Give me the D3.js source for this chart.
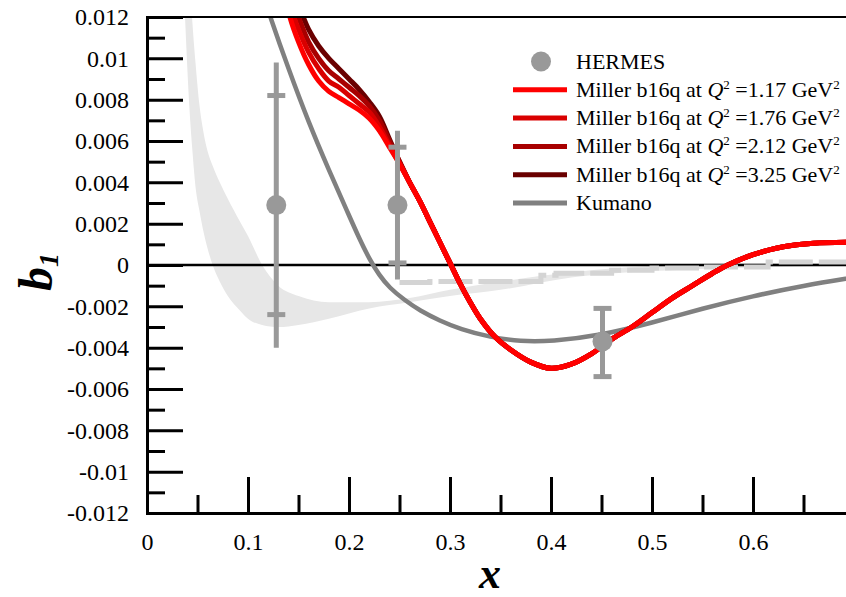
<!DOCTYPE html>
<html>
<head>
<meta charset="utf-8">
<script src="https://d3js.org/d3.v7.min.js"></script>
<style>
  body { margin: 0; background: #fff; }
  text { font-family: "Liberation Serif", "Times New Roman", serif; }
</style>
</head>
<body>
<svg width="846" height="597"></svg>
<script>
// ---- data ----
var xMajor = [0, 0.1, 0.2, 0.3, 0.4, 0.5, 0.6, 0.7];
var xMinor = [0.05, 0.15, 0.25, 0.35, 0.45, 0.55, 0.65];
var yMajor = [-0.012, -0.01, -0.008, -0.006, -0.004, -0.002, 0, 0.002, 0.004, 0.006, 0.008, 0.01, 0.012];
var yMinor = [-0.011, -0.009, -0.007, -0.005, -0.003, -0.001, 0.001, 0.003, 0.005, 0.007, 0.009, 0.011];

// HERMES points with stat (caps) and total (line) errors
var hermesX    = [0.128, 0.248, 0.451];
var hermesY    = [0.0029, 0.0029, -0.0037];
var hermesStHi = [0.0082, 0.0057, -0.0021];
var hermesStLo = [-0.0024, 0.0001, -0.0054];
var hermesTtHi = [0.0098, 0.0065, -0.0021];
var hermesTtLo = [-0.0040, -0.0007, -0.0054];

// Miller b16q curves
var millerX   = [0.135, 0.1415, 0.15, 0.16, 0.17, 0.18, 0.19, 0.2, 0.21, 0.22, 0.23, 0.24, 0.25, 0.26, 0.27, 0.28, 0.29, 0.3, 0.31, 0.32, 0.33, 0.345, 0.36, 0.38, 0.4, 0.42, 0.44, 0.46, 0.48, 0.5, 0.52, 0.54, 0.56, 0.575, 0.6, 0.63, 0.66, 0.7];
var millerTail = [0.0031, 0.0021, 0.0011, 0.0001, -0.0009, -0.0018, -0.0026, -0.0035, -0.0041, -0.0047, -0.0050, -0.0048, -0.0043, -0.0036, -0.0030, -0.0023, -0.0016, -0.0010, -0.0004, 0.0, 0.0005, 0.00088, 0.00105, 0.0011];
var miller117 = [0.0135, 0.012, 0.0108, 0.0097, 0.0089, 0.0084, 0.0081, 0.0078, 0.0075, 0.0071, 0.0065, 0.0057, 0.0049, 0.0040].concat(millerTail);
var miller176 = [0.0141, 0.0126, 0.0114, 0.0103, 0.0095, 0.0089, 0.0086, 0.0082, 0.0078, 0.0074, 0.0067, 0.0058, 0.0049, 0.0040].concat(millerTail);
var miller212 = [0.0146, 0.0132, 0.0120, 0.0108, 0.0100, 0.0094, 0.0090, 0.0086, 0.0082, 0.0077, 0.0070, 0.0060, 0.0050, 0.0040].concat(millerTail);
var miller325 = [0.0152, 0.0138, 0.0126, 0.0114, 0.0106, 0.0100, 0.0095, 0.0090, 0.0085, 0.0079, 0.0072, 0.0061, 0.0050, 0.0040].concat(millerTail);

// Kumano curve
var kumanoX = [0.11, 0.122, 0.14, 0.16, 0.18, 0.2, 0.21, 0.22, 0.23, 0.24, 0.255, 0.27, 0.29, 0.31, 0.34, 0.37, 0.4, 0.45, 0.5, 0.55, 0.6, 0.65, 0.7];
var kumanoY = [0.0138, 0.012, 0.0095, 0.0069, 0.0046, 0.0024, 0.0013, 0.0003, -0.0005, -0.0011, -0.0017, -0.0022, -0.0027, -0.0031, -0.0035, -0.0037, -0.0037, -0.0034, -0.0028, -0.0021, -0.0015, -0.0010, -0.0006];

// light grey band
var bandX  = [0.034, 0.038, 0.042, 0.045, 0.048, 0.052, 0.056, 0.06, 0.065, 0.072, 0.08, 0.092, 0.1, 0.114, 0.13, 0.15, 0.18, 0.22, 0.26, 0.3, 0.35, 0.42, 0.52, 0.6, 0.7];
var bandLo = [0.0165, 0.0116, 0.0076, 0.0055, 0.0038, 0.0026, 0.0016, 0.0008, 0.0, -0.0008, -0.0015, -0.0022, -0.0026, -0.0029, -0.0030, -0.0029, -0.0026, -0.0021, -0.0018, -0.0015, -0.0012, -0.0006, -0.00025, -0.00012, -0.00005];
var bandHi = [0.022, 0.018, 0.0142, 0.0117, 0.0098, 0.0077, 0.0064, 0.0055, 0.0048, 0.0040, 0.0032, 0.0021, 0.0014, 0.0, -0.0010, -0.0015, -0.0018, -0.0018, -0.0016, -0.0012, -0.0008, -0.00035, 0.0, 0.0001, 0.0001];

// dashed step line
var dashX = [0.25, 0.28, 0.32, 0.39, 0.405, 0.46, 0.5, 0.55, 0.615, 0.7];
var dashY = [-0.00085, -0.0008, -0.0008, -0.0005, -0.0004, -0.00025, -0.00015, -0.0001, 0.00015, 0.00015];

// legend
var legendNames  = ["1.17", "1.76", "2.12", "3.25"];
var legendColors = ["#ff0000", "#d90000", "#a80000", "#6a0000"];

// ---- layout ----
var svg = d3.select("svg");
var plotL = 147, plotR = 854, plotT = 17, plotB = 513;

var x = d3.scaleLinear().domain([0, 0.7]).range([plotL, plotR]);
var y = d3.scaleLinear().domain([-0.012, 0.012]).range([plotB, plotT]);

svg.append("clipPath").attr("id", "plot")
    .append("rect").attr("x", plotL).attr("y", plotT)
    .attr("width", plotR - plotL).attr("height", plotB - plotT);

var plot = svg.append("g").attr("clip-path", "url(#plot)");

// band
var bandData = bandX.map(function(d, i) { return [d, bandLo[i], bandHi[i]]; });
plot.append("path")
    .datum(bandData)
    .attr("fill", "#e7e7e7")
    .attr("d", d3.area()
        .x(function(d) { return x(d[0]); })
        .y0(function(d) { return y(d[1]); })
        .y1(function(d) { return y(d[2]); })
        .curve(d3.curveMonotoneX));

// zero line
plot.append("line")
    .attr("x1", plotL).attr("x2", plotR)
    .attr("y1", y(0)).attr("y2", y(0))
    .attr("stroke", "#000").attr("stroke-width", 2.5);

// dashed line
plot.append("path")
    .datum(dashX.map(function(d, i) { return [d, dashY[i]]; }))
    .attr("fill", "none")
    .attr("stroke", "#d4d4d4")
    .attr("stroke-width", 5)
    .attr("stroke-dasharray", "34,6")
    .attr("d", d3.line()
        .x(function(d) { return x(d[0]); })
        .y(function(d) { return y(d[1]); })
        .curve(d3.curveStepAfter));

var lineXY = function(curve) {
    return d3.line()
        .x(function(d) { return x(d[0]); })
        .y(function(d) { return y(d[1]); })
        .curve(curve);
};

// Kumano
plot.append("path")
    .datum(kumanoX.map(function(d, i) { return [d, kumanoY[i]]; }))
    .attr("fill", "none").attr("stroke", "#808080").attr("stroke-width", 4.5)
    .attr("d", lineXY(d3.curveBasis));

// Miller curves, darkest first
var millerSets = [miller117, miller176, miller212, miller325];
for (var k = 3; k >= 0; k--) {
    plot.append("path")
        .datum(millerX.map(function(d, i) { return [d, millerSets[k][i]]; }))
        .attr("fill", "none")
        .attr("stroke", legendColors[k])
        .attr("stroke-width", 5)
        .attr("d", lineXY(d3.curveCatmullRom.alpha(0.5)));
}

// HERMES error bars + points
var grey = "#999999";
var hg = svg.append("g");
hermesX.forEach(function(hx, i) {
    var px = x(hx);
    hg.append("line")
        .attr("x1", px).attr("x2", px)
        .attr("y1", y(hermesTtHi[i])).attr("y2", y(hermesTtLo[i]))
        .attr("stroke", grey).attr("stroke-width", 5);
    [hermesStHi[i], hermesStLo[i]].forEach(function(v) {
        hg.append("line")
            .attr("x1", px - 9).attr("x2", px + 9)
            .attr("y1", y(v)).attr("y2", y(v))
            .attr("stroke", grey).attr("stroke-width", 5);
    });
    hg.append("circle")
        .attr("cx", px).attr("cy", y(hermesY[i])).attr("r", 10)
        .attr("fill", grey);
});

// ---- axes ----
var fmt = function(d) { return String(+d.toFixed(3)); };

svg.append("line")
    .attr("x1", plotL).attr("x2", 846)
    .attr("y1", plotT).attr("y2", plotT)
    .attr("stroke", "#000").attr("stroke-width", 2);

var yMinorAxis = svg.append("g").attr("transform", "translate(" + plotL + ",0)")
    .call(d3.axisLeft(y).tickValues(yMinor).tickSize(-18).tickFormat(""));
var yAxis = svg.append("g").attr("transform", "translate(" + plotL + ",0)")
    .call(d3.axisLeft(y).tickValues(yMajor).tickSizeInner(-36).tickSizeOuter(0)
        .tickPadding(18).tickFormat(fmt));

var xMinorAxis = svg.append("g").attr("transform", "translate(0," + plotB + ")")
    .call(d3.axisBottom(x).tickValues(xMinor).tickSize(-18).tickFormat(""));
var xAxis = svg.append("g").attr("transform", "translate(0," + plotB + ")")
    .call(d3.axisBottom(x).tickValues(xMajor).tickSizeInner(-36).tickSizeOuter(0)
        .tickPadding(20).tickFormat(fmt));

[yMinorAxis, yAxis, xMinorAxis, xAxis].forEach(function(a) {
    a.selectAll("path.domain").attr("stroke", "#000").attr("stroke-width", 3);
    a.selectAll(".tick line").attr("stroke", "#000").attr("stroke-width", 3);
    a.selectAll("text").attr("font-family", "Liberation Serif").attr("font-size", 24).attr("fill", "#000");
});
xAxis.selectAll(".tick").filter(function(d) { return d > 0.65; }).select("text").remove();

// axis titles
svg.append("text")
    .attr("x", 490).attr("y", 588)
    .attr("text-anchor", "middle")
    .attr("font-size", 44).attr("font-weight", "bold").attr("font-style", "italic")
    .text("x");

var yt = svg.append("text")
    .attr("transform", "translate(52,272) rotate(-90)")
    .attr("text-anchor", "middle")
    .attr("font-weight", "bold").attr("font-style", "italic");
yt.append("tspan").attr("font-size", 48).text("b");
yt.append("tspan").attr("font-size", 28).attr("dy", 6).text("1");

// ---- legend ----
var lg = svg.append("g");
var rowY = function(i) { return 61.5 + i * 28.3; };
lg.append("circle").attr("cx", 541).attr("cy", rowY(0)).attr("r", 10).attr("fill", grey);
lg.append("text").attr("x", 576).attr("y", rowY(0) + 7).attr("font-size", 22).text("HERMES");

legendNames.forEach(function(q, i) {
    var ry = rowY(i + 1);
    lg.append("line").attr("x1", 513).attr("x2", 567).attr("y1", ry).attr("y2", ry)
        .attr("stroke", legendColors[i]).attr("stroke-width", 5);
    var t = lg.append("text").attr("x", 576).attr("y", ry + 7).attr("font-size", 22);
    t.append("tspan").text("Miller b16q at ");
    t.append("tspan").attr("font-style", "italic").text("Q");
    t.append("tspan").attr("font-size", 13).attr("dy", -8).text("2");
    t.append("tspan").attr("dy", 8).text(" =" + q + " GeV");
    t.append("tspan").attr("font-size", 13).attr("dy", -8).text("2");
});

var ky = rowY(5);
lg.append("line").attr("x1", 513).attr("x2", 567).attr("y1", ky).attr("y2", ky)
    .attr("stroke", "#808080").attr("stroke-width", 5);
lg.append("text").attr("x", 576).attr("y", ky + 7).attr("font-size", 22).text("Kumano");
</script>
</body>
</html>
